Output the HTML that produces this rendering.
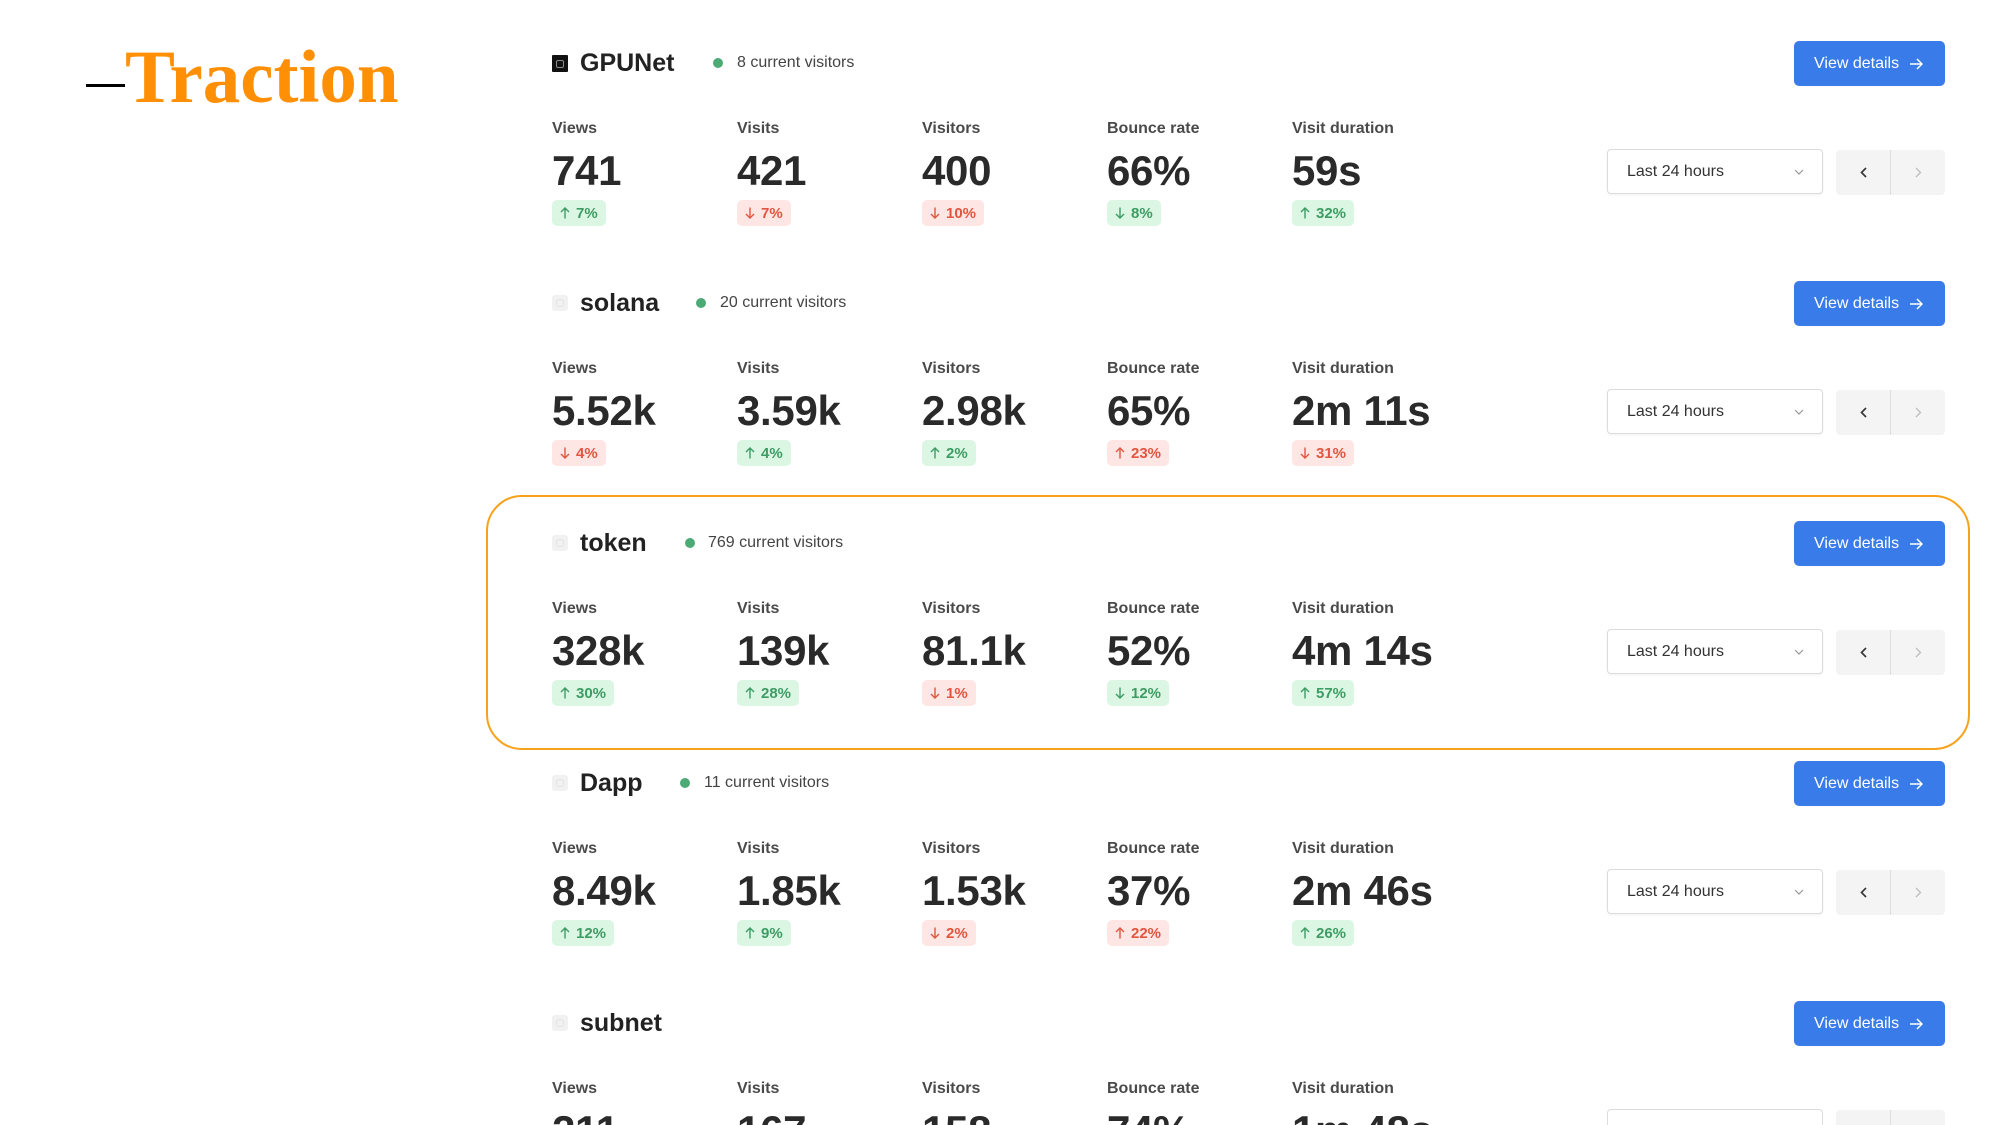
<!DOCTYPE html>
<html>
<head>
<meta charset="utf-8">
<style>
  html,body{margin:0;padding:0;background:#fff;width:1999px;height:1125px;overflow:hidden;}
  #wrap{position:relative;width:1999px;height:1125px;overflow:hidden;font-family:"Liberation Sans",Arial,sans-serif;background:#fff;}
  .dash{position:absolute;left:86px;top:84px;width:39px;height:3px;background:#000;}
  .title{position:absolute;left:125px;top:40px;font-family:"Liberation Serif","DejaVu Serif",serif;font-weight:bold;font-size:75px;line-height:75px;color:#FF9005;letter-spacing:0px;white-space:nowrap;}
  .hl{position:absolute;left:486px;top:495px;width:1480px;height:251px;border:2px solid #F7A21B;border-radius:36px;}
  .sec{position:absolute;left:0;width:1999px;height:240px;}
  .sec.last{height:165px;overflow:hidden;}
  .icon{position:absolute;left:552px;top:55px;width:16px;height:16px;border-radius:3px;background:#f1f1f1;}
  .icon.light::after{content:"";position:absolute;left:4px;top:4px;width:6px;height:6px;border:1px solid #e2e2e2;border-radius:3px;}
  .icon.dark{background:#111;border-radius:1px;height:17px;}
  .icon.dark::after{content:"";position:absolute;left:4px;top:4.5px;width:6px;height:6px;border:1.5px solid #8a8a8a;border-radius:2px;}
  .name{position:absolute;left:580px;top:51px;font-size:25px;line-height:25px;font-weight:bold;color:#222;white-space:nowrap;}
  .dot{position:absolute;top:58px;width:10px;height:10px;border-radius:50%;background:#4caa74;}
  .cv{position:absolute;top:54.5px;font-size:16px;line-height:16px;color:#444;white-space:nowrap;}
  .col{position:absolute;top:0;}
  .lbl{position:absolute;left:0;top:120.5px;font-size:16px;line-height:16px;font-weight:bold;color:#4a4a4a;white-space:nowrap;}
  .num{position:absolute;left:0;top:149.5px;font-size:42px;line-height:42px;font-weight:bold;color:#2a2a2a;white-space:nowrap;letter-spacing:-0.3px;}
  .last .num{height:15px;overflow:hidden;}
  .badge{position:absolute;left:0;top:200px;height:26px;padding:0 8px;border-radius:5px;display:flex;align-items:center;font-size:15px;font-weight:bold;white-space:nowrap;}
  .badge svg{margin-right:6px;display:block;}
  .up{background:#dcf6e4;color:#3d9c63;}
  .dn{background:#fde6e3;color:#e2553f;}
  .btn{position:absolute;left:1794px;top:41px;width:151px;height:45px;border-radius:5px;background:#3a7bea;color:#fff;font-size:16px;display:flex;align-items:center;box-sizing:border-box;padding-left:20px;white-space:nowrap;}
  .btn svg{margin-left:11px;display:block;}
  .dd{position:absolute;left:1607px;top:149px;width:216px;height:45px;box-sizing:border-box;border:1px solid #dcdcdc;border-radius:4px;background:#fff;box-shadow:0 1px 2px rgba(0,0,0,0.06);}
  .dd span{position:absolute;left:19px;top:14px;font-size:16px;line-height:16px;color:#333;white-space:nowrap;}
  .dd svg{position:absolute;left:186px;top:19px;}
  .last .dd{height:16px;border-bottom:none;border-radius:4px 4px 0 0;box-shadow:none;}
  .nav{position:absolute;left:1836px;top:150px;width:109px;height:45px;border-radius:4px;background:#f4f4f4;}
  .nav .div{position:absolute;left:54px;top:0;width:1px;height:45px;background:#dedede;}
  .last .nav{height:15px;border-radius:4px 4px 0 0;}
  .last .nav .div{height:15px;}
  .nav svg{position:absolute;top:17px;}
</style>
</head>
<body>
<div id="wrap">

<div class="dash"></div>
<div class="title">Traction</div>

<div class="hl"></div>

<!-- Section 1: GPUNet -->
<div class="sec" style="top:0px;">
  <div class="icon dark"></div>
  <div class="name">GPUNet</div>
  <div class="dot" style="left:713px;"></div>
  <div class="cv" style="left:737px;">8 current visitors</div>

  <div class="col" style="left:552px;"><div class="lbl">Views</div><div class="num">741</div>
    <div class="badge up"><svg width="10" height="12" viewBox="0 0 10 12"><path d="M5 11.5V1M1 5l4-4 4 4" fill="none" stroke="currentColor" stroke-width="1.4"/></svg>7%</div></div>
  <div class="col" style="left:737px;"><div class="lbl">Visits</div><div class="num">421</div>
    <div class="badge dn"><svg width="10" height="12" viewBox="0 0 10 12"><path d="M5 0.5V11M1 7l4 4 4-4" fill="none" stroke="currentColor" stroke-width="1.4"/></svg>7%</div></div>
  <div class="col" style="left:922px;"><div class="lbl">Visitors</div><div class="num">400</div>
    <div class="badge dn"><svg width="10" height="12" viewBox="0 0 10 12"><path d="M5 0.5V11M1 7l4 4 4-4" fill="none" stroke="currentColor" stroke-width="1.4"/></svg>10%</div></div>
  <div class="col" style="left:1107px;"><div class="lbl">Bounce rate</div><div class="num">66%</div>
    <div class="badge up"><svg width="10" height="12" viewBox="0 0 10 12"><path d="M5 0.5V11M1 7l4 4 4-4" fill="none" stroke="currentColor" stroke-width="1.4"/></svg>8%</div></div>
  <div class="col" style="left:1292px;"><div class="lbl">Visit duration</div><div class="num">59s</div>
    <div class="badge up"><svg width="10" height="12" viewBox="0 0 10 12"><path d="M5 11.5V1M1 5l4-4 4 4" fill="none" stroke="currentColor" stroke-width="1.4"/></svg>32%</div></div>

  <div class="btn">View details<svg width="13" height="12" viewBox="0 0 13 12"><path d="M0 6h12M7 1l5 5-5 5" fill="none" stroke="#fff" stroke-width="1.5"/></svg></div>
  <div class="dd"><span>Last 24 hours</span><svg width="10" height="6" viewBox="0 0 10 6"><path d="M1 1l4 4 4-4" fill="none" stroke="#999" stroke-width="1.2"/></svg></div>
  <div class="nav"><svg style="left:24px;" width="7" height="11" viewBox="0 0 7 11"><path d="M6 1L1.5 5.5 6 10" fill="none" stroke="#333" stroke-width="1.6"/></svg><div class="div"></div><svg style="left:79px;" width="7" height="11" viewBox="0 0 7 11"><path d="M1 1l4.5 4.5L1 10" fill="none" stroke="#bdbdbd" stroke-width="1.3"/></svg></div>
</div>

<!-- Section 2: solana -->
<div class="sec" style="top:240px;">
  <div class="icon light"></div>
  <div class="name">solana</div>
  <div class="dot" style="left:696px;"></div>
  <div class="cv" style="left:720px;">20 current visitors</div>

  <div class="col" style="left:552px;"><div class="lbl">Views</div><div class="num">5.52k</div>
    <div class="badge dn"><svg width="10" height="12" viewBox="0 0 10 12"><path d="M5 0.5V11M1 7l4 4 4-4" fill="none" stroke="currentColor" stroke-width="1.4"/></svg>4%</div></div>
  <div class="col" style="left:737px;"><div class="lbl">Visits</div><div class="num">3.59k</div>
    <div class="badge up"><svg width="10" height="12" viewBox="0 0 10 12"><path d="M5 11.5V1M1 5l4-4 4 4" fill="none" stroke="currentColor" stroke-width="1.4"/></svg>4%</div></div>
  <div class="col" style="left:922px;"><div class="lbl">Visitors</div><div class="num">2.98k</div>
    <div class="badge up"><svg width="10" height="12" viewBox="0 0 10 12"><path d="M5 11.5V1M1 5l4-4 4 4" fill="none" stroke="currentColor" stroke-width="1.4"/></svg>2%</div></div>
  <div class="col" style="left:1107px;"><div class="lbl">Bounce rate</div><div class="num">65%</div>
    <div class="badge dn"><svg width="10" height="12" viewBox="0 0 10 12"><path d="M5 11.5V1M1 5l4-4 4 4" fill="none" stroke="currentColor" stroke-width="1.4"/></svg>23%</div></div>
  <div class="col" style="left:1292px;"><div class="lbl">Visit duration</div><div class="num">2m 11s</div>
    <div class="badge dn"><svg width="10" height="12" viewBox="0 0 10 12"><path d="M5 0.5V11M1 7l4 4 4-4" fill="none" stroke="currentColor" stroke-width="1.4"/></svg>31%</div></div>

  <div class="btn">View details<svg width="13" height="12" viewBox="0 0 13 12"><path d="M0 6h12M7 1l5 5-5 5" fill="none" stroke="#fff" stroke-width="1.5"/></svg></div>
  <div class="dd"><span>Last 24 hours</span><svg width="10" height="6" viewBox="0 0 10 6"><path d="M1 1l4 4 4-4" fill="none" stroke="#999" stroke-width="1.2"/></svg></div>
  <div class="nav"><svg style="left:24px;" width="7" height="11" viewBox="0 0 7 11"><path d="M6 1L1.5 5.5 6 10" fill="none" stroke="#333" stroke-width="1.6"/></svg><div class="div"></div><svg style="left:79px;" width="7" height="11" viewBox="0 0 7 11"><path d="M1 1l4.5 4.5L1 10" fill="none" stroke="#bdbdbd" stroke-width="1.3"/></svg></div>
</div>

<!-- Section 3: token -->
<div class="sec" style="top:480px;">
  <div class="icon light"></div>
  <div class="name">token</div>
  <div class="dot" style="left:685px;"></div>
  <div class="cv" style="left:708px;">769 current visitors</div>

  <div class="col" style="left:552px;"><div class="lbl">Views</div><div class="num">328k</div>
    <div class="badge up"><svg width="10" height="12" viewBox="0 0 10 12"><path d="M5 11.5V1M1 5l4-4 4 4" fill="none" stroke="currentColor" stroke-width="1.4"/></svg>30%</div></div>
  <div class="col" style="left:737px;"><div class="lbl">Visits</div><div class="num">139k</div>
    <div class="badge up"><svg width="10" height="12" viewBox="0 0 10 12"><path d="M5 11.5V1M1 5l4-4 4 4" fill="none" stroke="currentColor" stroke-width="1.4"/></svg>28%</div></div>
  <div class="col" style="left:922px;"><div class="lbl">Visitors</div><div class="num">81.1k</div>
    <div class="badge dn"><svg width="10" height="12" viewBox="0 0 10 12"><path d="M5 0.5V11M1 7l4 4 4-4" fill="none" stroke="currentColor" stroke-width="1.4"/></svg>1%</div></div>
  <div class="col" style="left:1107px;"><div class="lbl">Bounce rate</div><div class="num">52%</div>
    <div class="badge up"><svg width="10" height="12" viewBox="0 0 10 12"><path d="M5 0.5V11M1 7l4 4 4-4" fill="none" stroke="currentColor" stroke-width="1.4"/></svg>12%</div></div>
  <div class="col" style="left:1292px;"><div class="lbl">Visit duration</div><div class="num">4m 14s</div>
    <div class="badge up"><svg width="10" height="12" viewBox="0 0 10 12"><path d="M5 11.5V1M1 5l4-4 4 4" fill="none" stroke="currentColor" stroke-width="1.4"/></svg>57%</div></div>

  <div class="btn">View details<svg width="13" height="12" viewBox="0 0 13 12"><path d="M0 6h12M7 1l5 5-5 5" fill="none" stroke="#fff" stroke-width="1.5"/></svg></div>
  <div class="dd"><span>Last 24 hours</span><svg width="10" height="6" viewBox="0 0 10 6"><path d="M1 1l4 4 4-4" fill="none" stroke="#999" stroke-width="1.2"/></svg></div>
  <div class="nav"><svg style="left:24px;" width="7" height="11" viewBox="0 0 7 11"><path d="M6 1L1.5 5.5 6 10" fill="none" stroke="#333" stroke-width="1.6"/></svg><div class="div"></div><svg style="left:79px;" width="7" height="11" viewBox="0 0 7 11"><path d="M1 1l4.5 4.5L1 10" fill="none" stroke="#bdbdbd" stroke-width="1.3"/></svg></div>
</div>

<!-- Section 4: Dapp -->
<div class="sec" style="top:720px;">
  <div class="icon light"></div>
  <div class="name">Dapp</div>
  <div class="dot" style="left:680px;"></div>
  <div class="cv" style="left:704px;">11 current visitors</div>

  <div class="col" style="left:552px;"><div class="lbl">Views</div><div class="num">8.49k</div>
    <div class="badge up"><svg width="10" height="12" viewBox="0 0 10 12"><path d="M5 11.5V1M1 5l4-4 4 4" fill="none" stroke="currentColor" stroke-width="1.4"/></svg>12%</div></div>
  <div class="col" style="left:737px;"><div class="lbl">Visits</div><div class="num">1.85k</div>
    <div class="badge up"><svg width="10" height="12" viewBox="0 0 10 12"><path d="M5 11.5V1M1 5l4-4 4 4" fill="none" stroke="currentColor" stroke-width="1.4"/></svg>9%</div></div>
  <div class="col" style="left:922px;"><div class="lbl">Visitors</div><div class="num">1.53k</div>
    <div class="badge dn"><svg width="10" height="12" viewBox="0 0 10 12"><path d="M5 0.5V11M1 7l4 4 4-4" fill="none" stroke="currentColor" stroke-width="1.4"/></svg>2%</div></div>
  <div class="col" style="left:1107px;"><div class="lbl">Bounce rate</div><div class="num">37%</div>
    <div class="badge dn"><svg width="10" height="12" viewBox="0 0 10 12"><path d="M5 11.5V1M1 5l4-4 4 4" fill="none" stroke="currentColor" stroke-width="1.4"/></svg>22%</div></div>
  <div class="col" style="left:1292px;"><div class="lbl">Visit duration</div><div class="num">2m 46s</div>
    <div class="badge up"><svg width="10" height="12" viewBox="0 0 10 12"><path d="M5 11.5V1M1 5l4-4 4 4" fill="none" stroke="currentColor" stroke-width="1.4"/></svg>26%</div></div>

  <div class="btn">View details<svg width="13" height="12" viewBox="0 0 13 12"><path d="M0 6h12M7 1l5 5-5 5" fill="none" stroke="#fff" stroke-width="1.5"/></svg></div>
  <div class="dd"><span>Last 24 hours</span><svg width="10" height="6" viewBox="0 0 10 6"><path d="M1 1l4 4 4-4" fill="none" stroke="#999" stroke-width="1.2"/></svg></div>
  <div class="nav"><svg style="left:24px;" width="7" height="11" viewBox="0 0 7 11"><path d="M6 1L1.5 5.5 6 10" fill="none" stroke="#333" stroke-width="1.6"/></svg><div class="div"></div><svg style="left:79px;" width="7" height="11" viewBox="0 0 7 11"><path d="M1 1l4.5 4.5L1 10" fill="none" stroke="#bdbdbd" stroke-width="1.3"/></svg></div>
</div>

<!-- Section 5: subnet (cut off) -->
<div class="sec last" style="top:960px;">
  <div class="icon light"></div>
  <div class="name">subnet</div>

  <div class="col" style="left:552px;"><div class="lbl">Views</div><div class="num">211</div></div>
  <div class="col" style="left:737px;"><div class="lbl">Visits</div><div class="num">167</div></div>
  <div class="col" style="left:922px;"><div class="lbl">Visitors</div><div class="num">158</div></div>
  <div class="col" style="left:1107px;"><div class="lbl">Bounce rate</div><div class="num">74%</div></div>
  <div class="col" style="left:1292px;"><div class="lbl">Visit duration</div><div class="num">1m 48s</div></div>

  <div class="btn">View details<svg width="13" height="12" viewBox="0 0 13 12"><path d="M0 6h12M7 1l5 5-5 5" fill="none" stroke="#fff" stroke-width="1.5"/></svg></div>
  <div class="dd"></div>
  <div class="nav"><div class="div"></div></div>
</div>

</div>
</body>
</html>
